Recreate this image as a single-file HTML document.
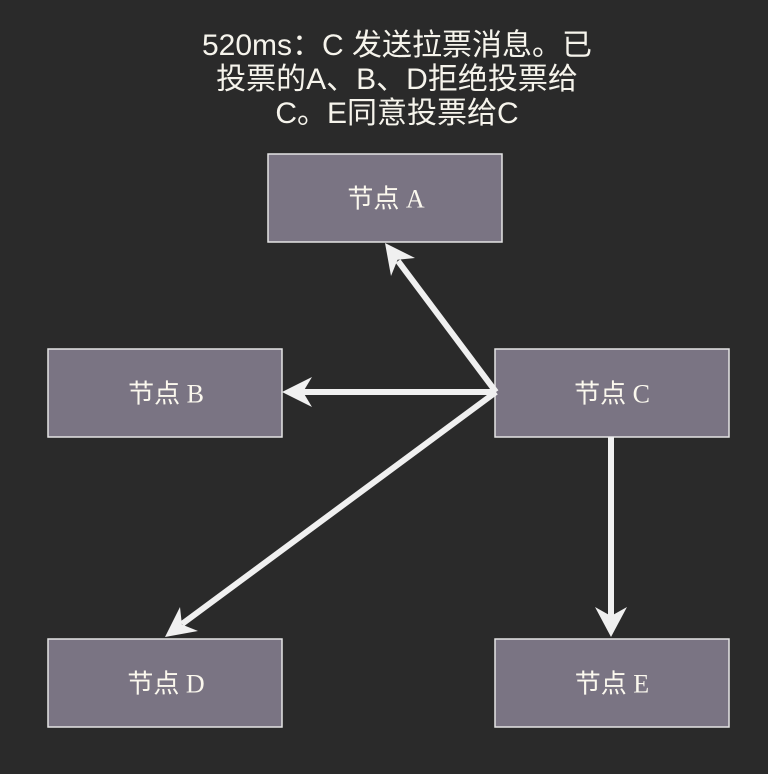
<!DOCTYPE html>
<html>
<head>
<meta charset="utf-8">
<style>
  html, body { margin:0; padding:0; }
  body { width:768px; height:774px; background:#2a2a2a; overflow:hidden; position:relative; }
  .title { position:absolute; left:0; top:29px; width:794px; text-align:center;
    font-family:"Liberation Sans","Noto Sans CJK SC",sans-serif; font-size:30px; line-height:34px;
    color:#f6f4ec; }
  svg { position:absolute; left:0; top:0; }
  .lbl { font-family:"Liberation Serif","Noto Sans CJK SC",serif; font-size:26px; fill:#fbf8ee; }
</style>
</head>
<body>
<div class="title">520ms：C 发送拉票消息。已<br>投票的A、B、D拒绝投票给<br>C。E同意投票给C</div>
<svg width="768" height="774" viewBox="0 0 768 774" xmlns="http://www.w3.org/2000/svg">
  <g fill="#7a7483" stroke="#e4e4e4" stroke-width="1.5">
    <rect x="268" y="154" width="234" height="88"/>
    <rect x="48" y="349" width="234" height="88"/>
    <rect x="495" y="349" width="234" height="88"/>
    <rect x="48" y="639" width="234" height="88"/>
    <rect x="495" y="639" width="234" height="88"/>
  </g>
  <g text-anchor="middle" dominant-baseline="central" class="lbl">
    <text x="386" y="199">节点 A</text>
    <text x="166" y="394">节点 B</text>
    <text x="612" y="394">节点 C</text>
    <text x="166" y="684">节点 D</text>
    <text x="612" y="684">节点 E</text>
  </g>
  <g stroke="#f0f0f0" stroke-width="6" fill="none" stroke-linecap="butt">
    <line x1="496" y1="392" x2="300" y2="392"/>
    <line x1="496" y1="392" x2="398" y2="261"/>
    <line x1="496" y1="392" x2="182" y2="624"/>
    <line x1="611" y1="437" x2="611" y2="618"/>
  </g>
  <g fill="#f0f0f0">
    <polygon points="282,392 312,377 303,392 312,407"/>
    <polygon points="385,243 415,258 397.6,259.8 391,276"/>
    <polygon points="165,637 180,607 181.9,624.5 198,631"/>
    <polygon points="611,637 595,607 611,616 627,607"/>
  </g>
</svg>
</body>
</html>
